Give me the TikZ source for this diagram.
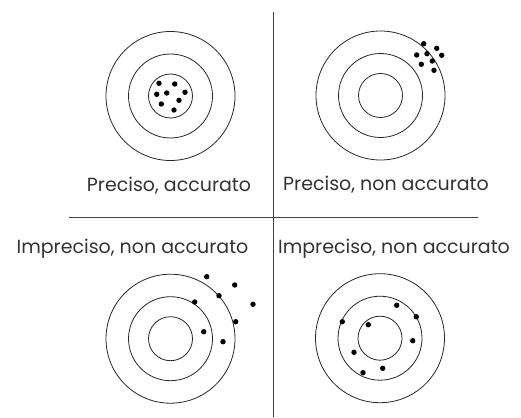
\documentclass[tikz,border=0pt]{standalone}
\usepackage{fontspec}
\setmainfont{Poppins}
\begin{document}
\begin{tikzpicture}[x=1pt,y=-1pt,
  ring/.style={draw=black!85,line width=0.8pt},
  shot/.style={fill=black},
  divider/.style={draw=black!75,line width=0.9pt},
  lbl/.style={anchor=base,inner sep=0pt,font=\fontsize{19}{22}\selectfont,text=black!80}]
\useasboundingbox (0,0) rectangle (521,417);
% dividers
\coordinate (vt) at (273.7,12);
\coordinate (vb) at (273.7,417);
\coordinate (hl) at (69.3,217);
\coordinate (hr) at (478.3,217);
\draw[divider] (vt) -- (vb);
\draw[divider] (hl) -- (hr);
% targets
\foreach \cx/\cy in {170.5/96, 380.5/95.5, 170.5/338.7, 380/338.2}{
  \draw[ring] (\cx,\cy) circle (22);
  \draw[ring] (\cx,\cy) circle (42);
  \draw[ring] (\cx,\cy) circle (64.5);
}
% shots
\foreach \p in {(159,83.3),(174.7,84),(156.7,94.3),(166.7,93),(185,92.3),(161.3,104),(179,100.3),(174,110),
  (423.7,43.7),(436.7,48.3),(416.7,55),(427,53.7),(441.7,55.3),(432.3,61),(421.3,64.3),(434,70.3),
  (206.7,276.7),(234.7,285),(219,295.7),(253,304.3),(194.7,302),(235.7,321.7),(203.7,331.7),(223,341.7),
  (396.7,305.3),(416.3,316.7),(342.3,321.7),(368.3,324.7),(412.7,340.7),(354,352.3),(382.7,368.3),(363,372.7)}
  \fill[shot] \p circle (2.7);
% labels
\node[lbl] (l1) at (169,191.5) {Preciso, accurato};
\node[lbl] (l2) at (386,190) {Preciso, non accurato};
\node[lbl] (l3) at (132.5,253.3) {Impreciso, non accurato};
\node[lbl] (l4) at (394,253.3) {Impreciso, non accurato};
\end{tikzpicture}
\end{document}
